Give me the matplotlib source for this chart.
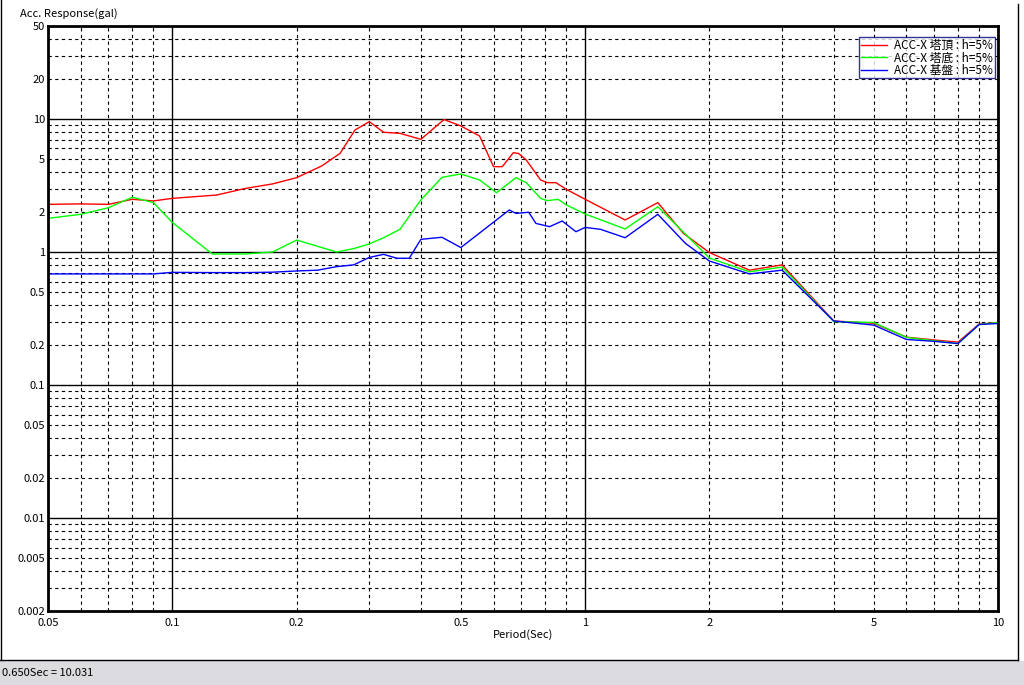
import matplotlib
matplotlib.use("Agg")
import matplotlib.pyplot as plt
from matplotlib.ticker import LogLocator, FuncFormatter
from matplotlib.lines import Line2D
from matplotlib.patches import Rectangle
import numpy as np

plt.rcParams['font.family'] = ['Noto Sans CJK JP', 'DejaVu Sans']

# response spectra (period in sec, acceleration in gal)
top_period = [0.05, 0.06, 0.07, 0.08, 0.09, 0.1, 0.128, 0.15, 0.175, 0.2, 0.23, 0.255,
              0.277, 0.3, 0.325, 0.356, 0.4, 0.455, 0.5, 0.555, 0.6, 0.63, 0.67, 0.69,
              0.72, 0.78, 0.81, 0.85, 0.9, 1.0, 1.25, 1.5, 1.73, 2.0, 2.5, 3.0, 4.0,
              5.0, 6.0, 7.0, 8.0, 9.0, 10.0]
top_acc = [2.28, 2.3, 2.28, 2.49, 2.42, 2.53, 2.68, 3.0, 3.25, 3.62, 4.43, 5.52,
           8.26, 9.55, 7.94, 7.8, 7.03, 9.9, 8.86, 7.45, 4.38, 4.38, 5.58, 5.5,
           4.92, 3.48, 3.32, 3.32, 2.96, 2.49, 1.74, 2.35, 1.38, 0.99, 0.73, 0.80,
           0.303, 0.291, 0.229, 0.218, 0.21, 0.287, 0.295]

base_period = [0.05, 0.06, 0.07, 0.08, 0.09, 0.1, 0.125, 0.15, 0.175, 0.2, 0.25,
               0.275, 0.3, 0.325, 0.356, 0.4, 0.45, 0.5, 0.555, 0.61, 0.68, 0.72,
               0.78, 0.81, 0.86, 0.9, 1.0, 1.25, 1.5, 2.0, 2.5, 3.0, 4.0, 5.0, 6.0,
               7.0, 8.0, 9.0, 10.0]
base_acc = [1.79, 1.92, 2.15, 2.58, 2.35, 1.67, 0.966, 0.966, 1.0, 1.23, 1.0,
            1.06, 1.15, 1.28, 1.48, 2.46, 3.64, 3.86, 3.48, 2.79, 3.62, 3.32,
            2.53, 2.43, 2.49, 2.26, 1.93, 1.49, 2.19, 0.90, 0.71, 0.77, 0.30, 0.295,
            0.228, 0.215, 0.205, 0.285, 0.295]

ground_period = [0.05, 0.08, 0.09, 0.1, 0.125, 0.15, 0.175, 0.2, 0.225, 0.25, 0.275,
                 0.3, 0.325, 0.35, 0.375, 0.4, 0.45, 0.5, 0.655, 0.68, 0.73, 0.76,
                 0.82, 0.88, 0.95, 1.0, 1.09, 1.25, 1.5, 1.75, 2.0, 2.5, 3.0, 4.0,
                 5.0, 6.0, 7.0, 8.0, 9.0, 10.0]
ground_acc = [0.684, 0.684, 0.684, 0.703, 0.70, 0.70, 0.705, 0.72, 0.73, 0.776, 0.80,
              0.91, 0.96, 0.897, 0.897, 1.245, 1.29, 1.08, 2.07, 1.95, 1.99, 1.64,
              1.55, 1.71, 1.42, 1.53, 1.48, 1.28, 1.92, 1.16, 0.855, 0.684, 0.73,
              0.303, 0.282, 0.22, 0.213, 0.205, 0.285, 0.29]

labels = ["ACC-X 塔頂 : h=5%", "ACC-X 塔底 : h=5%", "ACC-X 基盤 : h=5%"]
colors = ["#ff0000", "#00ff00", "#0000ff"]

fig = plt.figure(figsize=(10.24, 6.85), dpi=100)
ax = fig.add_axes([48 / 1024, 1 - 611 / 685, 950 / 1024, 585 / 685])

ax.plot(top_period, top_acc, color=colors[0], lw=1.0, label=labels[0])
ax.plot(base_period, base_acc, color=colors[1], lw=1.0, label=labels[1])
ax.plot(ground_period, ground_acc, color=colors[2], lw=1.0, label=labels[2])

ax.set_xscale('log')
ax.set_yscale('log')
ax.set_xlim(0.05, 10)
ax.set_ylim(0.002, 50)

for axis in (ax.xaxis, ax.yaxis):
    axis.set_major_locator(LogLocator(base=10, subs=(1.0,)))
    axis.set_minor_locator(LogLocator(base=10, subs=np.arange(2, 10)))


def major_fmt(v, pos):
    return '%g' % v


def minor_fmt(v, pos):
    # only 2x and 5x of each decade carry a label
    m = v / 10 ** np.floor(np.log10(v) + 1e-9)
    if abs(m - 2) < 1e-6 or abs(m - 5) < 1e-6:
        return '%g' % v
    return ''


ax.xaxis.set_major_formatter(FuncFormatter(major_fmt))
ax.xaxis.set_minor_formatter(FuncFormatter(minor_fmt))
ax.yaxis.set_major_formatter(FuncFormatter(major_fmt))
ax.yaxis.set_minor_formatter(FuncFormatter(minor_fmt))

ax.grid(True, which='major', color='black', lw=1.0, ls='-')
ax.grid(True, which='minor', color='black', lw=0.8, ls=(0, (3, 3)))
ax.tick_params(which='both', length=0, labelsize=8)
ax.tick_params(axis='x', which='both', pad=5)
ax.tick_params(axis='y', which='both', pad=2)
for s in ax.spines.values():
    s.set_linewidth(2)

ax.set_xlabel('Period(Sec)', fontsize=8, labelpad=1)
fig.text(20 / 1024, 1 - 14 / 685, 'Acc. Response(gal)', fontsize=8, va='center', ha='left')

leg = ax.legend(loc='upper right', bbox_to_anchor=(0.9968, 0.981), fontsize=8.5,
                frameon=True, fancybox=False, borderaxespad=0, borderpad=0.15,
                handlelength=2.2, labelspacing=-0.05, handletextpad=0.6)
leg.get_frame().set_edgecolor('#000080')
leg.get_frame().set_linewidth(1.0)

# window frame and status bar
fig.add_artist(Line2D([1 / 1024, 1 / 1024], [1 - 660 / 685, 1], color='black', lw=1))
fig.add_artist(Line2D([1018 / 1024, 1018 / 1024], [1 - 660 / 685, 1 - 4 / 685], color='black', lw=1))
fig.add_artist(Line2D([0, 1018 / 1024], [1 - 660 / 685, 1 - 660 / 685], color='black', lw=1))
fig.add_artist(Rectangle((0, 0), 1, 24 / 685, transform=fig.transFigure,
                         facecolor='#dcdce0', edgecolor='none'))
fig.text(2 / 1024, 12 / 685, '0.650Sec = 10.031', fontsize=8, va='center', ha='left')

fig.savefig('out.png', dpi=100)
